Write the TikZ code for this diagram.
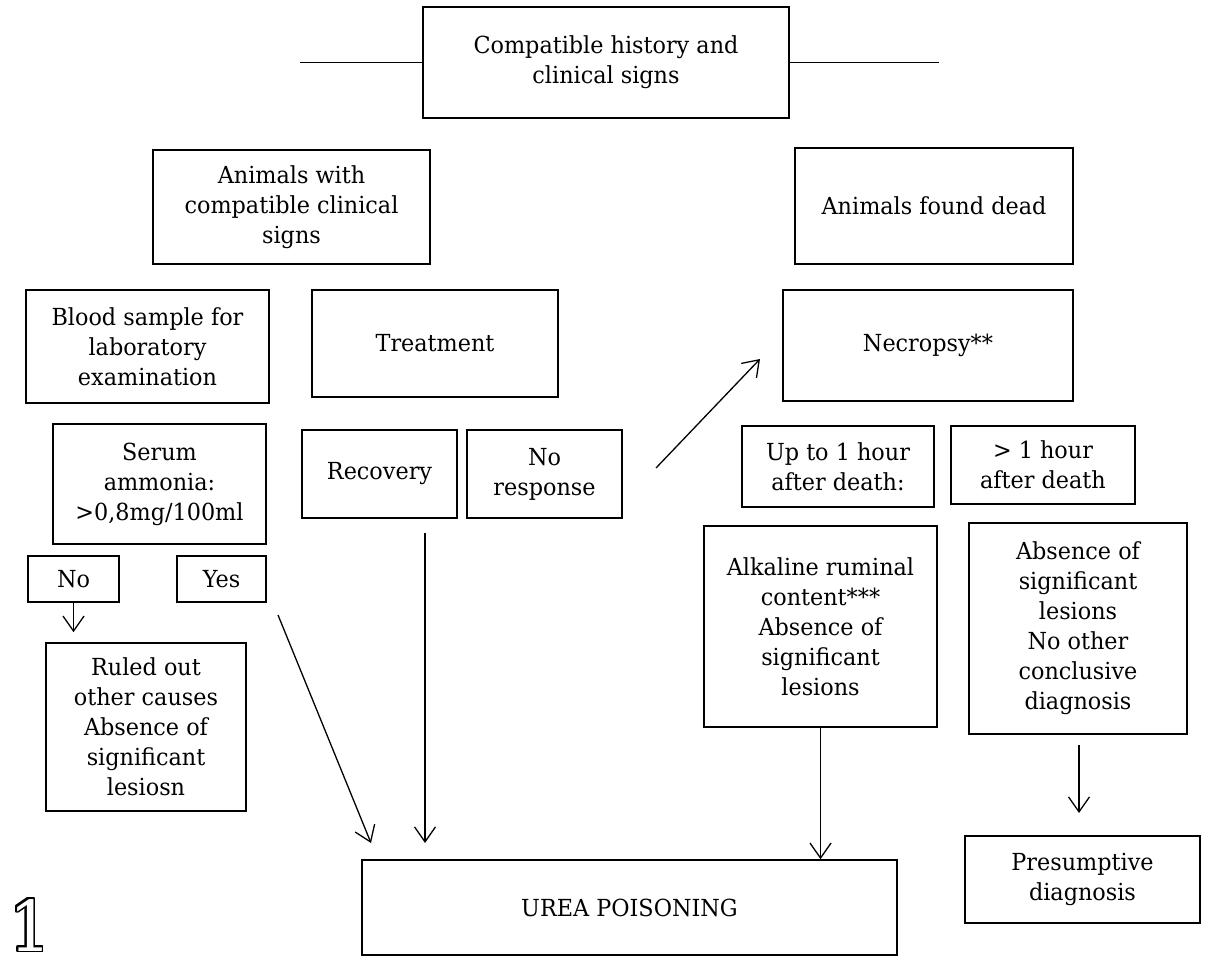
\documentclass[tikz,border=0pt]{standalone}
\usepackage{fontspec}
\setmainfont{DejaVu Serif}[FakeStretch=0.95]
\usepackage{contour}
\contourlength{1.7pt}
\contournumber{32}
\usetikzlibrary{arrows.meta}
\begin{document}
\begin{tikzpicture}[x=1pt,y=-1pt,
  box/.style={draw, line width=1.6pt, align=center, inner sep=2pt,
    font=\fontsize{23.5}{30}\selectfont},
  arr/.style={line width=1.3pt, -{Straight Barb[length=15pt,width=21pt]}},
  plain/.style={line width=1.5pt}]
\fill[white] (0,0) rectangle (1208,960);
\useasboundingbox (0,0) rectangle (1208,960);

% boxes
\node[box, minimum width=366pt, minimum height=111pt] (top) at (606,62.5)
  {Compatible history and\\clinical signs};
\node[box, minimum width=277pt, minimum height=114pt] (animals) at (291.5,207)
  {Animals with\\compatible clinical\\signs};
\node[box, minimum width=278pt, minimum height=116pt] (dead) at (934,206)
  {Animals found dead};
\node[box, minimum width=243pt, minimum height=113pt] (blood) at (147.5,346.5)
  {Blood sample for\\laboratory\\examination};
\node[box, minimum width=246pt, minimum height=107pt] (treat) at (435,343.5)
  {Treatment};
\node[box, minimum width=290pt, minimum height=111pt] (necropsy) at (928,345.5)
  {Necropsy**};
\node[box, minimum width=213pt, minimum height=120pt] (serum) at (159.5,484)
  {Serum\\ammonia:\\>0,8mg/100ml};
\node[box, minimum width=155pt, minimum height=88pt] (recovery) at (379.5,474)
  {Recovery};
\node[box, minimum width=155pt, minimum height=88pt] (noresp) at (544.5,474)
  {No\\response};
\node[box, minimum width=192pt, minimum height=81pt] (upto) at (838,466.5)
  {Up to 1 hour\\after death:};
\node[box, minimum width=184pt, minimum height=78pt] (gtone) at (1043,465)
  {> 1 hour\\after death};
\node[box, minimum width=91pt, minimum height=46pt] (no) at (73.5,579) {No};
\node[box, minimum width=89pt, minimum height=46pt] (yes) at (221.5,579) {Yes};
\node[box, minimum width=200pt, minimum height=168pt] (ruled) at (146,727)
  {Ruled out\\other causes\\Absence of\\significant\\lesiosn};
\node[box, minimum width=233pt, minimum height=201pt] (alk) at (820.5,626.5)
  {Alkaline ruminal\\content***\\Absence of\\significant\\lesions};
\node[box, minimum width=218pt, minimum height=211pt] (absence) at (1078,628.5)
  {Absence of\\significant\\lesions\\No other\\conclusive\\diagnosis};
\node[box, minimum width=535pt, minimum height=95pt] (urea) at (629.5,907.5)
  {UREA POISONING};
\node[box, minimum width=235pt, minimum height=87pt] (presump) at (1082.5,879.5)
  {Presumptive\\diagnosis};
\node[anchor=base west, inner sep=0pt] (one) at (9,951)
  {\fontsize{70}{70}\selectfont\color{white}\contour{black}{1}};

% free ends
\coordinate (tl) at (300,62.5);
\coordinate (tr) at (939,62.5);
\coordinate (d1) at (278,615);
\coordinate (d2) at (371,843);
\coordinate (r1) at (425,533);
\coordinate (r2) at (425,843);
\coordinate (n1) at (656,468);
\coordinate (n2) at (760,359);
\coordinate (p1) at (1079,745);
\coordinate (p2) at (1079,813);

% connectors
\draw[plain] (top.west) -- (tl);
\draw[plain] (top.east) -- (tr);
\draw[arr, shorten >=10pt] (no.south) -- (no.south |- ruled.north);
\draw[arr] (d1) -- (d2);
\draw[arr] (r1) -- (r2);
\draw[arr] (n1) -- (n2);
\draw[arr] (alk.south) -- (alk.south |- urea.north);
\draw[arr] (p1) -- (p2);
\end{tikzpicture}
\end{document}
